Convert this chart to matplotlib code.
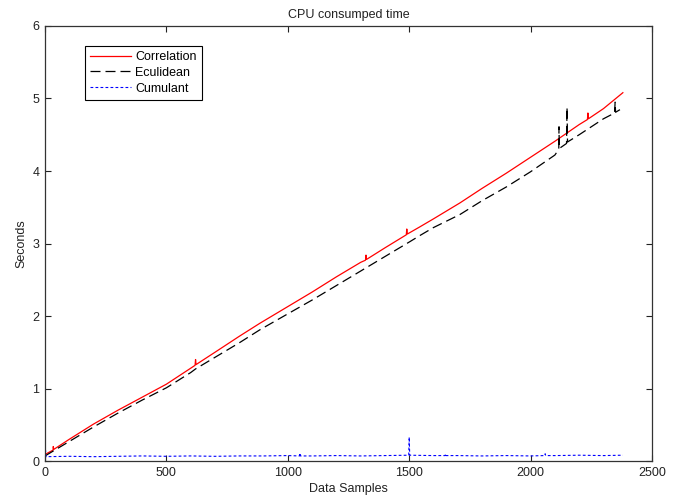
import matplotlib
matplotlib.use("Agg")
from matplotlib import pyplot as plt

plt.rcParams["font.family"] = ["Liberation Sans", "DejaVu Sans"]

# Correlation (red, solid)
corr_x = [5, 33, 34, 36, 100, 200, 300, 400, 500, 600, 618, 620, 622, 700, 800,
          885, 1000, 1100, 1200, 1300, 1320, 1322, 1324, 1400, 1488, 1490, 1492,
          1544, 1600, 1709, 1800, 1900, 2000, 2100, 2200, 2234, 2236, 2238, 2300, 2380]
corr_y = [0.10, 0.15, 0.20, 0.16, 0.30, 0.51, 0.70, 0.88, 1.06, 1.28, 1.32, 1.40, 1.33,
          1.50, 1.72, 1.90, 2.13, 2.33, 2.54, 2.74, 2.77, 2.84, 2.78, 2.94, 3.12, 3.20,
          3.13, 3.23, 3.34, 3.56, 3.76, 3.97, 4.19, 4.41, 4.64, 4.71, 4.80, 4.72, 4.86, 5.08]

# Eculidean (black, dashed)
eucl_x = [0, 100, 200, 300, 400, 500, 600, 620, 700, 800, 885, 1000, 1100, 1200,
          1300, 1400, 1500, 1544, 1600, 1709, 1800, 1900, 2000, 2100, 2116, 2117,
          2118, 2148, 2150, 2152, 2200, 2300, 2346, 2348, 2350, 2380]
eucl_y = [0.07, 0.27, 0.47, 0.66, 0.84, 1.01, 1.22, 1.27, 1.43, 1.63, 1.81, 2.03,
          2.22, 2.42, 2.62, 2.82, 3.02, 3.11, 3.22, 3.40, 3.59, 3.78, 3.99, 4.22,
          4.30, 4.61, 4.31, 4.38, 4.88, 4.40, 4.50, 4.72, 4.80, 4.95, 4.81, 4.87]

# Cumulant (blue, dotted)
cumul_x = [0, 2, 4, 100, 200, 300, 400, 500, 600, 700, 800, 900, 1000, 1048, 1050,
           1052, 1100, 1200, 1300, 1400, 1498, 1500, 1502, 1600, 1648, 1650, 1652,
           1700, 1800, 1900, 2000, 2058, 2060, 2062, 2100, 2200, 2300, 2380]
cumul_y = [0.07, 0.15, 0.06, 0.065, 0.06, 0.065, 0.07, 0.065, 0.07, 0.065, 0.07,
           0.07, 0.075, 0.07, 0.11, 0.07, 0.07, 0.075, 0.07, 0.075, 0.08, 0.33, 0.08,
           0.075, 0.075, 0.10, 0.075, 0.075, 0.07, 0.075, 0.07, 0.075, 0.10, 0.075,
           0.075, 0.08, 0.075, 0.08]

fig = plt.figure(figsize=(6.76, 4.97), dpi=100)
ax = fig.add_axes([0.0666, 0.0724, 0.8979, 0.8753])

ax.plot(corr_x, corr_y, color="#ff0000", lw=0.9, label="Correlation")
ax.plot(eucl_x, eucl_y, color="black", lw=0.9, dashes=(8, 4), label="Eculidean")
ax.plot(cumul_x, cumul_y, color="#0000ff", lw=0.8, dashes=(2.5, 2), label="Cumulant")

ax.set_xlim(0, 2500)
ax.set_ylim(0, 6)
ax.set_xticks([0, 500, 1000, 1500, 2000, 2500])
ax.set_yticks([0, 1, 2, 3, 4, 5, 6])
ax.tick_params(direction="in", top=True, right=True, length=4, width=0.8,
               labelsize=9, colors="#222222", pad=4)
for s in ax.spines.values():
    s.set_linewidth(0.9)
    s.set_color("#333333")

ax.set_title("CPU consumped time", fontsize=9, color="#222222", pad=6)
ax.set_xlabel("Data Samples", fontsize=9, color="#222222", labelpad=3)
ax.set_ylabel("Seconds", fontsize=9, color="#222222", labelpad=4)

leg = ax.legend(loc="upper left", bbox_to_anchor=(0.066, 0.954), fontsize=9,
                handlelength=3.3, fancybox=False, framealpha=1, borderaxespad=0,
                borderpad=0.4, labelspacing=0.3, handletextpad=0.3)
leg.get_frame().set_edgecolor("black")
leg.get_frame().set_linewidth(0.8)

fig.savefig("out.png", dpi=100)
